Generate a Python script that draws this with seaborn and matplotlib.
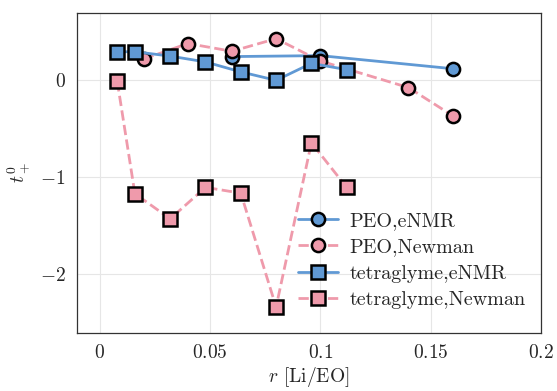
import matplotlib
matplotlib.use("Agg")
import matplotlib.pyplot as plt
import seaborn as sns
import pandas as pd
from matplotlib.ticker import FixedLocator, FixedFormatter

# ---- data ----
peo_enmr_x = [0.06, 0.10, 0.16]
peo_enmr_y = [0.245, 0.255, 0.12]

peo_newman_x = [0.02, 0.04, 0.06, 0.08, 0.10, 0.14, 0.16]
peo_newman_y = [0.22, 0.38, 0.30, 0.43, 0.20, -0.075, -0.365]

tetra_enmr_x = [0.008, 0.016, 0.032, 0.048, 0.064, 0.08, 0.096, 0.112]
tetra_enmr_y = [0.295, 0.295, 0.25, 0.19, 0.087, 0.0, 0.175, 0.11]

tetra_newman_x = [0.008, 0.016, 0.032, 0.048, 0.064, 0.08, 0.096, 0.112]
tetra_newman_y = [-0.01, -1.17, -1.43, -1.105, -1.165, -2.34, -0.645, -1.105]

series_labels = ["PEO,eNMR", "PEO,Newman", "tetraglyme,eNMR", "tetraglyme,Newman"]
x_ticks = [0, 0.05, 0.1, 0.15, 0.2]
x_tick_labels = ["$0$", "$0.05$", "$0.1$", "$0.15$", "$0.2$"]
y_ticks = [0, -1, -2]
y_tick_labels = ["$0$", "$-1$", "$-2$"]

sns.set_style("white")
plt.rcParams["mathtext.fontset"] = "cm"
plt.rcParams["font.family"] = ["cmr10", "DejaVu Serif"]
plt.rcParams["axes.unicode_minus"] = False

BLUE = "#6099d4"
PINK = "#ef9aab"

fig = plt.figure(figsize=(5.57, 3.91), dpi=100)
ax = fig.add_axes([0.138, 0.148, 0.833, 0.82])

series = [
    (peo_enmr_x, peo_enmr_y, BLUE, "o", "-"),
    (peo_newman_x, peo_newman_y, PINK, "o", "--"),
    (tetra_enmr_x, tetra_enmr_y, BLUE, "s", "-"),
    (tetra_newman_x, tetra_newman_y, PINK, "s", "--"),
]
for (xs, ys, col, mk, ls), lab in zip(series, series_labels):
    df = pd.DataFrame({"x": xs, "y": ys})
    sns.lineplot(data=df, x="x", y="y", ax=ax, sort=False, color=col,
                 linestyle=ls, linewidth=2.0, marker=mk, markersize=9.5,
                 markerfacecolor=col, markeredgecolor="black",
                 markeredgewidth=1.8, label=lab, estimator=None)

ax.set_xlim(-0.0103, 0.2)
ax.set_ylim(-2.61, 0.70)
ax.xaxis.set_major_locator(FixedLocator(x_ticks))
ax.xaxis.set_major_formatter(FixedFormatter(x_tick_labels))
ax.yaxis.set_major_locator(FixedLocator(y_ticks))
ax.yaxis.set_major_formatter(FixedFormatter(y_tick_labels))
ax.grid(True, color="#e6e6e6", linewidth=0.8)
ax.tick_params(axis="both", direction="in", length=4, color="#bbbbbb",
               labelsize=14, pad=8)
for s in ax.spines.values():
    s.set_color("#333333")
    s.set_linewidth(0.9)

ax.set_xlabel(r"$r$ [Li/EO]", fontsize=14, labelpad=2)
ax.set_ylabel(r"$t_+^0$", fontsize=14, labelpad=6)

leg = ax.legend(loc="lower right", bbox_to_anchor=(0.997, 0.03), frameon=False,
                fontsize=14.5, handlelength=2.0, labelspacing=0.42,
                handletextpad=0.55, borderaxespad=0.3)

fig.savefig("out.png", dpi=100)
